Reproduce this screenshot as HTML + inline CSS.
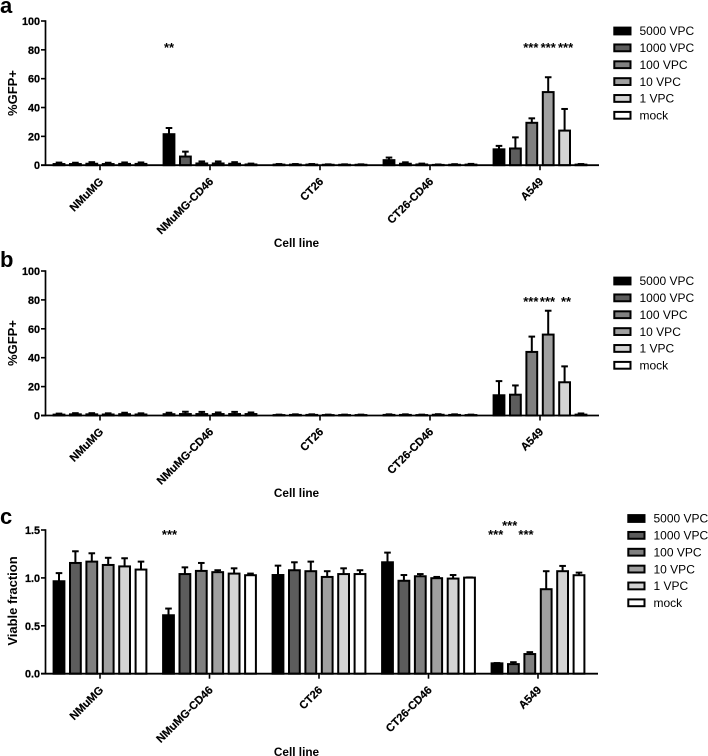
<!DOCTYPE html>
<html>
<head>
<meta charset="utf-8">
<title>GFP expression and viability by cell line</title>
<style>
html,body{margin:0;padding:0;background:#fff;}
svg{display:block;}
text{font-family:"Liberation Sans",sans-serif;fill:#000;}
</style>
</head>
<body>
<svg id="figure" width="708" height="756" viewBox="0 0 708 756" xmlns="http://www.w3.org/2000/svg"></svg>
<script>
const categories = ['NMuMG', 'NMuMG-CD46', 'CT26', 'CT26-CD46', 'A549'];
const seriesLabels = ['5000 VPC', '1000 VPC', '100 VPC', '10 VPC', '1 VPC', 'mock'];
const seriesColors = ['#000000', '#5c5c5c', '#808080', '#a0a0a0', '#d4d4d4', '#ffffff'];

const gfpTicks = [0, 20, 40, 60, 80, 100];
const viabilityTicks = ['0.0', '0.5', '1.0', '1.5'];

const panelAValues = [
  [0.8, 0.8, 1.0, 0.8, 0.9, 0.9],
  [21.5, 6, 1.2, 1.2, 1, 0.5],
  [0.4, 0.4, 0.4, 0.3, 0.3, 0.3],
  [3.5, 1, 0.5, 0.2, 0.3, 0.4],
  [11, 11.6, 29.4, 50.7, 24, 0.4]
];
const panelAErrors = [
  [1, 0.9, 1.1, 0.9, 1, 1],
  [4.3, 3.4, 1.4, 1.4, 1.1, 0.6],
  [0.4, 0.4, 0.4, 0.3, 0.3, 0.3],
  [1.8, 1, 0.6, 0.3, 0.4, 0.5],
  [2.4, 7.7, 3.1, 10.3, 15, 0.4]
];
const panelBValues = [
  [0.6, 0.8, 0.8, 0.7, 0.9, 0.7],
  [0.9, 1, 1, 1, 1, 1],
  [0.3, 0.4, 0.4, 0.3, 0.3, 0.3],
  [0.4, 0.4, 0.3, 0.5, 0.4, 0.3],
  [14, 14.4, 44, 56, 23, 0.6]
];
const panelBErrors = [
  [0.7, 0.8, 0.8, 0.8, 1, 0.8],
  [1, 1.6, 1.5, 1.1, 1.5, 1.1],
  [0.3, 0.4, 0.4, 0.3, 0.3, 0.3],
  [0.4, 0.4, 0.3, 0.4, 0.4, 0.3],
  [9.8, 6.4, 10.6, 16.5, 11, 0.8]
];
const panelCValues = [
  [0.965, 1.156, 1.17, 1.135, 1.12, 1.087],
  [0.61, 1.04, 1.073, 1.06, 1.045, 1.028],
  [1.03, 1.08, 1.07, 1.01, 1.04, 1.04],
  [1.163, 0.97, 1.017, 0.997, 0.993, 1.003],
  [0.108, 0.1, 0.205, 0.882, 1.07, 1.028]
];
const panelCErrors = [
  [0.085, 0.122, 0.087, 0.075, 0.085, 0.083],
  [0.07, 0.07, 0.083, 0.02, 0.055, 0.017],
  [0.098, 0.083, 0.1, 0.06, 0.06, 0.04],
  [0.101, 0.06, 0.023, 0.013, 0.037, 0.002],
  [0.003, 0.02, 0.02, 0.188, 0.055, 0.027]
];

const panelAStars = [[1, 0, '**'], [4, 2, '***'], [4, 3, '***'], [4, 4, '***']];
const panelBStars = [[4, 2, '***'], [4, 3, '***'], [4, 4, '**']];
const panelCStars = [[1, 0, '***'], [4, 0, '***'], [4, 1, '***'], [4, 2, '***']];

const svg = document.getElementById('figure');
const NS = 'http://www.w3.org/2000/svg';

function make(tag, attrs, parent, content) {
  const el = document.createElementNS(NS, tag);
  for (const k in attrs) el.setAttribute(k, attrs[k]);
  if (content !== undefined) el.textContent = content;
  parent.appendChild(el);
  return el;
}

function drawPanel(cfg) {
  const g = make('g', {}, svg);
  
  

  const yPos = v => cfg.yBottom - (v / cfg.yMax) * (cfg.yBottom - cfg.yTop);
  const barX = (c, s) => cfg.x0 + c * cfg.groupStep + s * 16.4;

  const letter = make('text', {x: 0, y: cfg.letterY, 'font-size': 22, 'font-weight': 700}, g, cfg.letter);
  
  

  cfg.values.forEach((row, c) => {
    row.forEach((v, s) => {
      const x = barX(c, s);
      const top = yPos(v + cfg.errors[c][s]);
      const errLine = make('line', {x1: x, x2: x, y1: yPos(v), y2: top, stroke: '#000', 'stroke-width': 2}, g);
      
      
      const cap = make('line', {x1: x - 3.3, x2: x + 3.3, y1: top, y2: top, stroke: '#000', 'stroke-width': 2}, g);
      
      
      const bar = make('rect', {
        x: x - 5.4, y: yPos(v), width: 10.8, height: Math.max(0, cfg.yBottom - yPos(v)),
        fill: seriesColors[s], stroke: '#000', 'stroke-width': 2
      }, g);
      
      
    });
  });

  const yAxis = make('line', {x1: 45.5, x2: 45.5, y1: cfg.yTop - 0.8, y2: cfg.yBottom + 0.8, stroke: '#000', 'stroke-width': 1.7}, g);
  
  
  const xAxis = make('line', {x1: 41, x2: cfg.xEnd, y1: cfg.yBottom, y2: cfg.yBottom, stroke: '#000', 'stroke-width': 1.8}, g);
  
  

  cfg.ticks.forEach(t => {
    const y = yPos(parseFloat(t));
    const tick = make('line', {x1: 41, x2: 45.5, y1: y, y2: y, stroke: '#000', 'stroke-width': 1.6}, g);
    
    
    const label = make('text', {x: 40, y: y + 4, 'font-size': 10.8, 'font-weight': 700, 'text-anchor': 'end', stroke: '#000', 'stroke-width': 0.25}, g, t);
    
    
  });

  categories.forEach((name, c) => {
    const x = barX(c, 2.5);
    const tick = make('line', {x1: x, x2: x, y1: cfg.yBottom, y2: cfg.yBottom + 5, stroke: '#000', 'stroke-width': 1.6}, g);
    
    
    const lx = x + 4;
    const ly = cfg.yBottom + 17;
    const label = make('text', {
      x: lx, y: ly, 'font-size': 11.2, 'font-weight': 700, 'text-anchor': 'end', stroke: '#000', 'stroke-width': 0.2,
      transform: 'rotate(-45 ' + lx + ' ' + ly + ')'
    }, g, name);
    
    
  });

  const ty = cfg.yTitleY;
  const yTitle = make('text', {
    x: 17, y: ty, 'font-size': 13, 'font-weight': 700, 'text-anchor': 'middle',
    transform: 'rotate(-90 17 ' + ty + ')'
  }, g, cfg.yTitle);
  
  

  const xTitle = make('text', {x: 296.5, y: cfg.xTitleY, 'font-size': 11.8, 'font-weight': 700, 'text-anchor': 'middle'}, g, 'Cell line');
  
  

  cfg.stars.forEach((st, i) => {
    const star = make('text', {x: barX(st[0], st[1]) + cfg.starDx[i], y: cfg.starY[i] + 6, 'font-size': 13, 'font-weight': 700, 'text-anchor': 'middle'}, g, st[2]);
    
    
  });

  seriesLabels.forEach((name, s) => {
    const y = cfg.legendY + s * 16.86;
    const swatch = make('rect', {x: cfg.legendX, y: y - 3.4, width: 16.2, height: 6.8, fill: seriesColors[s], stroke: '#000', 'stroke-width': 2}, g);
    
    
    const label = make('text', {x: cfg.legendX + 25.2, y: y + 4.2, 'font-size': 12}, g, name);
    
    
  });
}

drawPanel({
  letter: 'a', letterY: 13, yTop: 21, yBottom: 165.2, yMax: 100, x0: 59, groupStep: 110, xEnd: 599,
  values: panelAValues, errors: panelAErrors, ticks: gfpTicks, yTitle: '%GFP+', yTitleY: 93, xTitleY: 247,
  stars: panelAStars, starY: [46, 46, 46, 46], starDx: [0, -1, 0, 1],
  legendX: 614.3, legendY: 31
});
drawPanel({
  letter: 'b', letterY: 267, yTop: 271, yBottom: 415.5, yMax: 100, x0: 59, groupStep: 110, xEnd: 599,
  values: panelBValues, errors: panelBErrors, ticks: gfpTicks, yTitle: '%GFP+', yTitleY: 343, xTitleY: 497,
  stars: panelBStars, starY: [300, 300, 300], starDx: [-1, -0.7, 1.4],
  legendX: 614.3, legendY: 281
});
drawPanel({
  letter: 'c', letterY: 524, yTop: 530, yBottom: 673.7, yMax: 1.5, x0: 59, groupStep: 109.5, xEnd: 598,
  values: panelCValues, errors: panelCErrors, ticks: viabilityTicks, yTitle: 'Viable fraction', yTitleY: 601, xTitleY: 756,
  stars: panelCStars, starY: [533, 533, 524, 533], starDx: [1, -1.3, -3.7, -3.8],
  legendX: 628.3, legendY: 518.5
});
</script>
</body>
</html>
